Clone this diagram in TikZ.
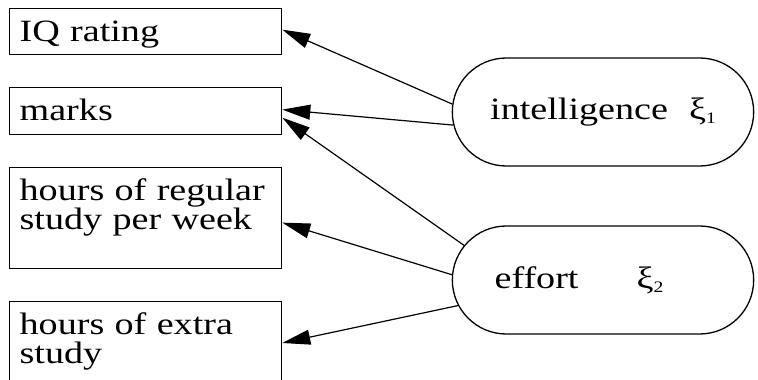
\documentclass[tikz,border=0pt]{standalone}
\usepackage{fontspec}
\setmainfont{Liberation Serif}[FakeStretch=1.23]
\usetikzlibrary{arrows.meta,shapes.misc}

\newcommand\subidx[1]{\raisebox{-4pt}{\fontsize{16pt}{16pt}\selectfont #1}}

\begin{document}
\begin{tikzpicture}[
  x=1pt, y=-1pt,
  font=\fontsize{31pt}{28.5pt}\selectfont,
  obs/.style={rectangle, draw, line width=1.3pt, anchor=north west, minimum width=272pt, text width=252pt, inner xsep=10pt, inner ysep=8pt, align=left, text height=25pt},
  latent/.style={rounded rectangle, draw, line width=1.3pt, minimum width=308pt, minimum height=108pt},
  load/.style={line width=1.2pt, -{Triangle[length=28pt,width=15pt]}},
]
  \clip (0,0) rectangle (758,380);
  \node[obs, text depth=5pt] (iq) at (9,8) {IQ rating};
  \node[obs, text depth=6pt] (marks) at (9,87) {marks};
  \node[obs, text depth=60pt] (regular) at (9,167) {hours of regular\\study per week};
  \node[obs, text depth=80pt] (extra) at (9,301) {hours of extra\\study};

  \node[latent] (intel) at (603,112) {\makebox[150pt]{intelligence\hspace{21pt}ξ\subidx{1}}};
  \node[latent] (effort) at (603,280) {\makebox[150pt]{effort\hspace{58pt}ξ\subidx{2}\hspace*{48pt}}};

  \draw[load] (intel.177) -- ([yshift=2pt]iq.east);
  \draw[load] (intel.185) -- ([yshift=1.5pt]marks.east);
  \draw[load] (effort.166) -- ([yshift=-6.5pt]marks.east);
  \draw[load] (effort.178) -- ([yshift=-4.5pt]regular.east);
  \draw[load] (effort.190) -- ([yshift=-42pt]extra.north east);
\end{tikzpicture}
\end{document}
